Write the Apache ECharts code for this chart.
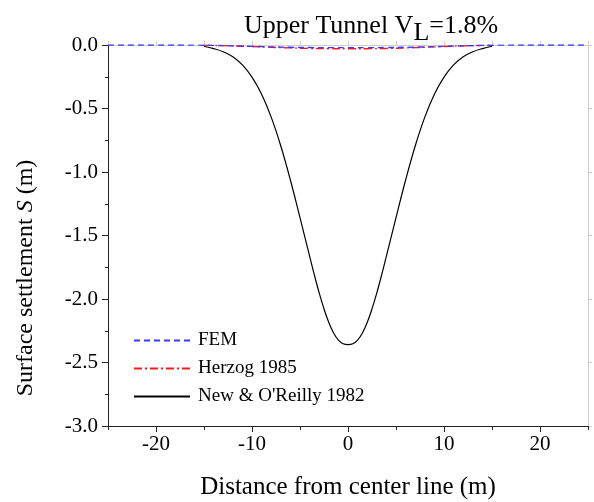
<!DOCTYPE html>
<html>
<head>
<meta charset="utf-8">
<script src="https://cdn.jsdelivr.net/npm/echarts@6/dist/echarts.min.js"></script>
<style>
  html, body { margin: 0; padding: 0; background: #fff; }
  #main { width: 594px; height: 502px; }
</style>
</head>
<body>
<div id="main"></div>
<script>
// data
var femX = [-25, -20, -16, -14, -12, -10, -8, -6, -4, -2, 0, 2, 4, 6, 8, 10, 12, 14, 16, 20, 25];
var femS = [0, 0, -0.001, -0.003, -0.007, -0.011, -0.015, -0.018, -0.020, -0.021, -0.021, -0.021, -0.020, -0.018, -0.015, -0.011, -0.007, -0.003, -0.001, 0, 0];

var herzogX = [-15, -14, -12, -10, -8, -6, -4, -2, 0, 2, 4, 6, 8, 10, 12, 14, 15];
var herzogS = [-0.001, -0.003, -0.007, -0.012, -0.018, -0.023, -0.027, -0.029, -0.030, -0.029, -0.027, -0.023, -0.018, -0.012, -0.007, -0.003, -0.001];

var newX = [-15, -14, -13, -12, -11, -10, -9, -8, -7, -6, -5, -4, -3.5, -3, -2.5, -2, -1.5, -1, -0.5, 0,
            0.5, 1, 1.5, 2, 2.5, 3, 3.5, 4, 5, 6, 7, 8, 9, 10, 11, 12, 13, 14, 15];
var newS = [-0.010, -0.028, -0.053, -0.093, -0.157, -0.253, -0.388, -0.568, -0.795, -1.063, -1.360, -1.662, -1.812, -1.952, -2.078, -2.185, -2.268, -2.324, -2.353, -2.360,
            -2.353, -2.324, -2.268, -2.185, -2.078, -1.952, -1.812, -1.662, -1.360, -1.063, -0.795, -0.568, -0.388, -0.253, -0.157, -0.093, -0.053, -0.028, -0.010];

var xMajorTicks = [-20, -10, 0, 10, 20];
var xMinorTicks = [-25, -15, -5, 5, 15, 25];
var topTicks = [-25, -20, -15, -10, -5, 0, 5, 10, 15, 20, 25];

function pairs(xs, ys) {
    var out = [];
    for (var i = 0; i < xs.length; i++) {
        out.push([xs[i], ys[i]]);
    }
    return out;
}

var font = 'Liberation Serif';
var chart = echarts.init(document.getElementById('main'));

var option = {
    animation: false,
    backgroundColor: '#fff',
    textStyle: { fontFamily: font },
    title: {
        text: 'Upper Tunnel V{sub|L}=1.8%',
        left: 366,
        top: 2,
        textAlign: 'center',
        textStyle: {
            fontFamily: font,
            fontSize: 26,
            fontWeight: 'normal',
            color: '#000',
            rich: {
                sub: { fontFamily: font, fontSize: 26, color: '#000', padding: [13, 0, 0, 0] }
            }
        }
    },
    legend: {
        orient: 'vertical',
        left: 128,
        top: 326,
        itemWidth: 56,
        itemHeight: 14,
        itemGap: 9,
        itemStyle: { opacity: 0 },
        lineStyle: { opacity: 1 },
        textStyle: { fontFamily: font, fontSize: 19, color: '#000', padding: [0, 0, 0, 3] },
        data: ['FEM', 'Herzog 1985', "New & O'Reilly 1982"]
    },
    grid: { left: 108, right: 6, top: 45, bottom: 76, outerBoundsMode: 'none', containLabel: false },
    xAxis: [{
        type: 'value',
        min: -25,
        max: 25,
        position: 'bottom',
        name: 'Distance from center line (m)',
        nameLocation: 'middle',
        nameGap: 49,
        nameTextStyle: { fontFamily: font, fontSize: 25, color: '#000' },
        axisLine: { show: true, onZero: false, lineStyle: { color: '#222', width: 1 } },
        axisTick: { show: true, inside: false, length: 6, customValues: xMajorTicks, lineStyle: { color: '#222' } },
        axisLabel: { customValues: xMajorTicks, margin: 8, fontFamily: font, fontSize: 21, color: '#000' },
        splitLine: { show: false }
    }, {
        type: 'value',
        min: -25,
        max: 25,
        position: 'bottom',
        axisLine: { show: false, onZero: false },
        axisTick: { show: true, inside: false, length: 4, customValues: xMinorTicks, lineStyle: { color: '#222' } },
        axisLabel: { show: false },
        splitLine: { show: false }
    }, {
        type: 'value',
        min: -25,
        max: 25,
        position: 'top',
        axisLine: { show: true, onZero: false, lineStyle: { color: '#cfcfcf', width: 1 } },
        axisTick: { show: true, inside: false, length: 4, customValues: topTicks, lineStyle: { color: '#cfcfcf' } },
        axisLabel: { show: false },
        splitLine: { show: false }
    }],
    yAxis: [{
        type: 'value',
        min: -3,
        max: 0,
        interval: 0.5,
        position: 'left',
        axisLine: { show: true, onZero: false, lineStyle: { color: '#222', width: 1 } },
        axisTick: { show: true, inside: false, length: 6, lineStyle: { color: '#222' } },
        minorTick: { show: true, splitNumber: 2, length: 3, lineStyle: { color: '#222' } },
        axisLabel: {
            margin: 10, fontFamily: font, fontSize: 21, color: '#000',
            formatter: function (v) { return v.toFixed(1); }
        },
        splitLine: { show: false }
    }, {
        type: 'value',
        min: -3,
        max: 0,
        interval: 0.5,
        position: 'right',
        axisLine: { show: true, onZero: false, lineStyle: { color: '#cfcfcf', width: 1 } },
        axisTick: { show: true, inside: false, length: 4, lineStyle: { color: '#cfcfcf' } },
        axisLabel: { show: false },
        splitLine: { show: false }
    }],
    graphic: [{
        type: 'text',
        x: 26,
        y: 278,
        rotation: Math.PI / 2,
        style: {
            text: 'Surface settlement {it|S} (m)',
            fontFamily: font,
            fontSize: 24,
            fill: '#000',
            align: 'center',
            verticalAlign: 'middle',
            rich: { it: { fontFamily: font, fontSize: 24, fontStyle: 'italic', fill: '#000' } }
        }
    }],
    series: [{
        name: "New & O'Reilly 1982",
        type: 'line',
        data: pairs(newX, newS),
        smooth: 0.4,
        showSymbol: false,
        symbol: 'none',
        z: 2,
        lineStyle: { color: '#000', width: 1.2, type: 'solid' },
        itemStyle: { color: '#000' }
    }, {
        name: 'Herzog 1985',
        type: 'line',
        data: pairs(herzogX, herzogS),
        smooth: true,
        showSymbol: false,
        symbol: 'none',
        z: 3,
        lineStyle: { color: '#ff1a1a', width: 1.4, type: [8, 3, 2, 3] },
        itemStyle: { color: '#ff1a1a' }
    }, {
        name: 'FEM',
        type: 'line',
        data: pairs(femX, femS),
        smooth: true,
        showSymbol: false,
        symbol: 'none',
        z: 4,
        lineStyle: { color: '#3a3aff', width: 1.4, type: [6, 4] },
        itemStyle: { color: '#3a3aff' }
    }]
};

chart.setOption(option);
</script>
</body>
</html>
